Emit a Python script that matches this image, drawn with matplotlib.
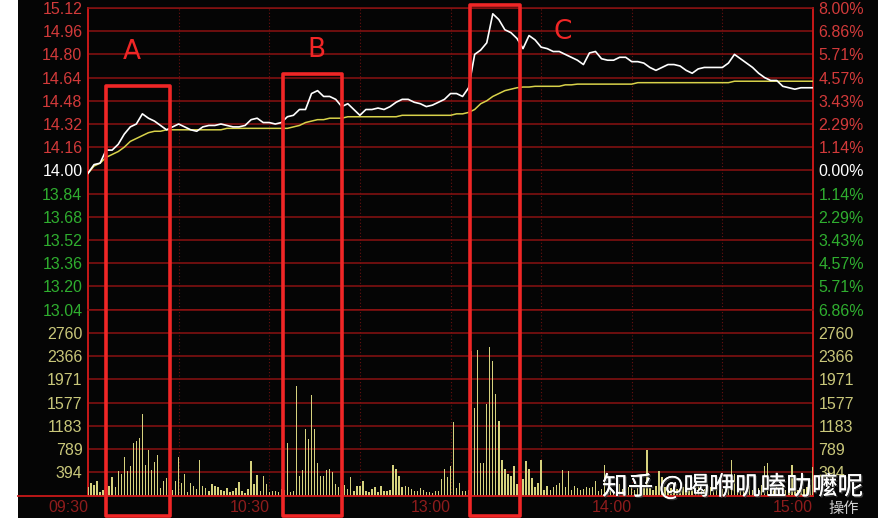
import numpy as np
import matplotlib.pyplot as plt
from matplotlib.patches import Rectangle
from matplotlib.lines import Line2D
from matplotlib import transforms
import matplotlib.patheffects as pe

# price line and average line, one point every 2 minutes (09:30 .. 15:00)
price = [13.98, 14.04, 14.05, 14.14, 14.14, 14.18, 14.25, 14.30, 14.32, 14.39,
         14.36, 14.34, 14.31, 14.28, 14.30, 14.32, 14.30, 14.28, 14.27, 14.30,
         14.31, 14.31, 14.32, 14.31, 14.30, 14.30, 14.31, 14.35, 14.36, 14.33,
         14.33, 14.32, 14.33, 14.37, 14.38, 14.42, 14.42, 14.53, 14.55, 14.51,
         14.51, 14.49, 14.44, 14.46, 14.42, 14.38, 14.42, 14.42, 14.43, 14.42,
         14.44, 14.47, 14.49, 14.49, 14.47, 14.46, 14.44, 14.45, 14.47, 14.49,
         14.53, 14.53, 14.51, 14.57, 14.80, 14.83, 14.88, 15.08, 15.04, 14.97,
         14.95, 14.91, 14.84, 14.93, 14.90, 14.85, 14.84, 14.82, 14.82, 14.80,
         14.78, 14.76, 14.73, 14.81, 14.82, 14.77, 14.76, 14.76, 14.78, 14.78,
         14.75, 14.75, 14.74, 14.71, 14.69, 14.71, 14.73, 14.73, 14.72, 14.69,
         14.67, 14.70, 14.71, 14.71, 14.71, 14.71, 14.74, 14.80, 14.77, 14.74,
         14.71, 14.67, 14.64, 14.62, 14.62, 14.58, 14.57, 14.56, 14.57, 14.57,
         14.57]

avg_price = [13.98, 14.03, 14.05, 14.09, 14.11, 14.13, 14.16, 14.20, 14.22, 14.24,
             14.26, 14.27, 14.27, 14.28, 14.28, 14.28, 14.28, 14.28, 14.28, 14.28,
             14.28, 14.28, 14.28, 14.29, 14.29, 14.29, 14.29, 14.29, 14.29, 14.29,
             14.29, 14.29, 14.29, 14.29, 14.30, 14.31, 14.33, 14.34, 14.35, 14.35,
             14.36, 14.36, 14.36, 14.37, 14.37, 14.37, 14.37, 14.37, 14.37, 14.37,
             14.37, 14.37, 14.38, 14.38, 14.38, 14.38, 14.38, 14.38, 14.38, 14.38,
             14.38, 14.39, 14.39, 14.40, 14.42, 14.46, 14.48, 14.51, 14.53, 14.55,
             14.56, 14.57, 14.575, 14.575, 14.58, 14.58, 14.58, 14.58, 14.58, 14.59,
             14.59, 14.595, 14.595, 14.595, 14.595, 14.595, 14.595, 14.595, 14.595, 14.595,
             14.595, 14.605, 14.605, 14.605, 14.605, 14.605, 14.605, 14.605, 14.605, 14.605,
             14.605, 14.605, 14.605, 14.605, 14.605, 14.605, 14.605, 14.615, 14.615, 14.615,
             14.615, 14.615, 14.615, 14.615, 14.615, 14.615, 14.615, 14.615, 14.615, 14.615,
             14.615]

# volume per minute
volume = [141, 208, 186, 253, 56, 90, 120, 169, 310, 141,
          411, 366, 648, 411, 496, 884, 929, 969, 1391, 518,
          777, 434, 563, 693, 124, 242, 293, 150, 100, 242,
          648, 220, 366, 56, 220, 169, 113, 608, 163, 130,
          85, 197, 163, 141, 96, 85, 130, 56, 85, 124,
          231, 85, 40, 113, 580, 197, 349, 85, 327, 197,
          56, 85, 85, 56, 120, 100, 884, 56, 73, 1859,
          338, 434, 1127, 958, 1707, 1127, 546, 338, 338, 434,
          451, 406, 197, 141, 150, 186, 113, 321, 85, 169,
          169, 253, 85, 56, 113, 141, 68, 169, 73, 85,
          96, 518, 451, 338, 152, 169, 152, 113, 73, 85,
          124, 96, 56, 56, 40, 73, 73, 282, 451, 310,
          496, 1250, 124, 208, 73, 73, 100, 2450, 1493, 2462,
          552, 552, 1549, 2524, 2281, 1718, 1267, 603, 451, 366,
          338, 496, 200, 150, 282, 580, 451, 299, 141, 208,
          603, 96, 169, 96, 141, 180, 208, 434, 141, 411,
          96, 169, 124, 96, 113, 141, 124, 141, 242, 85,
          113, 524, 96, 150, 96, 124, 200, 113, 85, 141,
          180, 96, 124, 220, 141, 772, 124, 96, 169, 411,
          310, 141, 96, 124, 180, 113, 85, 152, 200, 96,
          124, 141, 169, 85, 113, 96, 141, 124, 180, 96,
          113, 152, 124, 608, 366, 141, 96, 124, 113, 169,
          96, 141, 124, 180, 507, 546, 124, 96, 141, 113,
          169, 96, 141, 524, 124, 96, 141, 113, 152, 180,
          479]

price_ticks = [15.12, 14.96, 14.80, 14.64, 14.48, 14.32, 14.16, 14.00,
               13.84, 13.68, 13.52, 13.36, 13.20, 13.04]
pct_labels = ['8.00%', '6.86%', '5.71%', '4.57%', '3.43%', '2.29%', '1.14%', '0.00%',
              '1.14%', '2.29%', '3.43%', '4.57%', '5.71%', '6.86%']
vol_ticks = [394, 789, 1183, 1577, 1971, 2366, 2760]
time_labels = ['09:30', '10:30', '13:00', '14:00', '15:00']
time_pos = [0, 60, 120, 180, 240]
pre_close = 14.00

# marked windows (minutes) and their labels
boxes = {'A': (6, 27), 'B': (64.5, 84), 'C': (126.5, 143)}

W, H = 896, 525
RED_TXT = '#d23a3a'
GREEN_TXT = '#2fae2f'
VOL_TXT = '#c9c77a'
GRID = '#8a1212'
SPINE = '#c81818'
BOX = '#f02626'

plt.rcParams['font.family'] = ['Liberation Sans', 'DejaVu Sans']

fig = plt.figure(figsize=(W / 100, H / 100), dpi=100, facecolor='white')

def fx(px):
    return px / W

def fy(py):
    return 1 - py / H

# black terminal background
fig.add_artist(Rectangle((fx(18), fy(518)), fx(860), 518 / H, transform=fig.transFigure,
                         facecolor='#050505', edgecolor='none', zorder=-5))

ax_p = fig.add_axes([fx(88), fy(309.6), fx(813 - 88), (309.6 - 8) / H])
ax_v = fig.add_axes([fx(88), fy(495.6), fx(813 - 88), (495.6 - 309.6) / H], sharex=ax_p)

t_price = np.arange(0, 241, 2)
t_vol = np.arange(len(volume))

ax_p.plot(t_price, avg_price, color='#d8d24a', lw=1.1, zorder=3)
ax_p.plot(t_price, price, color='white', lw=1.2, zorder=4)
ax_v.bar(t_vol, volume, width=0.45, color='#d6d27e', zorder=3)

ax_p.set_xlim(0, 240)
ax_p.set_ylim(price_ticks[-1], price_ticks[0])
ax_v.set_ylim(0, vol_ticks[-1] + 394.3)

for ax in (ax_p, ax_v):
    ax.set_facecolor('#050505')
    ax.set_xticks(range(0, 241, 30))
    ax.grid(axis='y', color=GRID, lw=1.1)
    ax.grid(axis='x', color='#6a1010', lw=0.8, linestyle=(0, (1, 2)))
    ax.tick_params(length=0, labelbottom=False, labelsize=11.5, pad=4)
    for s in ('top', 'bottom'):
        ax.spines[s].set_color(GRID)
        ax.spines[s].set_linewidth(1.1)
    for s in ('left', 'right'):
        ax.spines[s].set_color(SPINE)
        ax.spines[s].set_linewidth(1.4)

def price_color(p):
    if p > pre_close:
        return RED_TXT
    if p < pre_close:
        return GREEN_TXT
    return 'white'

ax_p.set_yticks(price_ticks, ['%.2f' % p for p in price_ticks])
for lab, p in zip(ax_p.get_yticklabels(), price_ticks):
    lab.set_color(price_color(p))

ax_p2 = ax_p.twinx()
ax_p2.set_ylim(ax_p.get_ylim())
ax_p2.set_yticks(price_ticks, pct_labels)
ax_p2.tick_params(length=0, labelsize=11.5, pad=4)
for lab, p in zip(ax_p2.get_yticklabels(), price_ticks):
    lab.set_color(price_color(p))
for s in ax_p2.spines.values():
    s.set_visible(False)

ax_v.set_yticks(vol_ticks, [str(v) for v in vol_ticks])
ax_v.tick_params(axis='y', labelleft=True, labelright=True, colors=VOL_TXT)

# time axis labels, right-aligned to their grid position
tr = transforms.blended_transform_factory(ax_v.transData, ax_v.transAxes)
for pos, lab in zip(time_pos, time_labels):
    ax_v.text(pos, -0.062, lab, transform=tr, ha='right', va='center',
              color='#8e1c1c', fontsize=11.5)

# bottom separator line across the whole panel
fig.add_artist(Line2D([fx(18), fx(813)], [fy(495.6), fy(495.6)], transform=fig.transFigure,
                      color=SPINE, lw=1.3, zorder=5))

# red highlight boxes
btr = transforms.blended_transform_factory(ax_p.transData, fig.transFigure)
box_tops = {'A': 86, 'B': 74, 'C': 5}
label_pos = {'A': (14.5, 52), 'B': (75.5, 50), 'C': (157, 32)}
for name, (x0, x1) in boxes.items():
    top = box_tops[name]
    fig.add_artist(Rectangle((x0, fy(516)), x1 - x0, (516 - top) / H, transform=btr,
                             fill=False, edgecolor=BOX, lw=2.6, joinstyle='round',
                             clip_on=False, zorder=10))
    lx, ly = label_pos[name]
    fig.text(lx, fy(ly), name, transform=btr, color=BOX, fontsize=19,
             family=['DejaVu Sans'], ha='center', va='center', zorder=11)

fig.text(fx(844), fy(508), '操作', color='#cfcfcf', fontsize=11, ha='center', va='center',
         family=['Noto Sans CJK SC', 'DejaVu Sans'])

fig.text(fx(602), fy(487), '知乎 @喝咿叽嗑叻嚒呢', color='white', fontsize=18.5,
         ha='left', va='center', family=['Noto Sans CJK SC', 'DejaVu Sans'], zorder=12,
         path_effects=[pe.withSimplePatchShadow(offset=(1, -1), shadow_rgbFace='#444444', alpha=0.8),
                       pe.Normal()])

fig.savefig('out.png', dpi=100, facecolor=fig.get_facecolor())
